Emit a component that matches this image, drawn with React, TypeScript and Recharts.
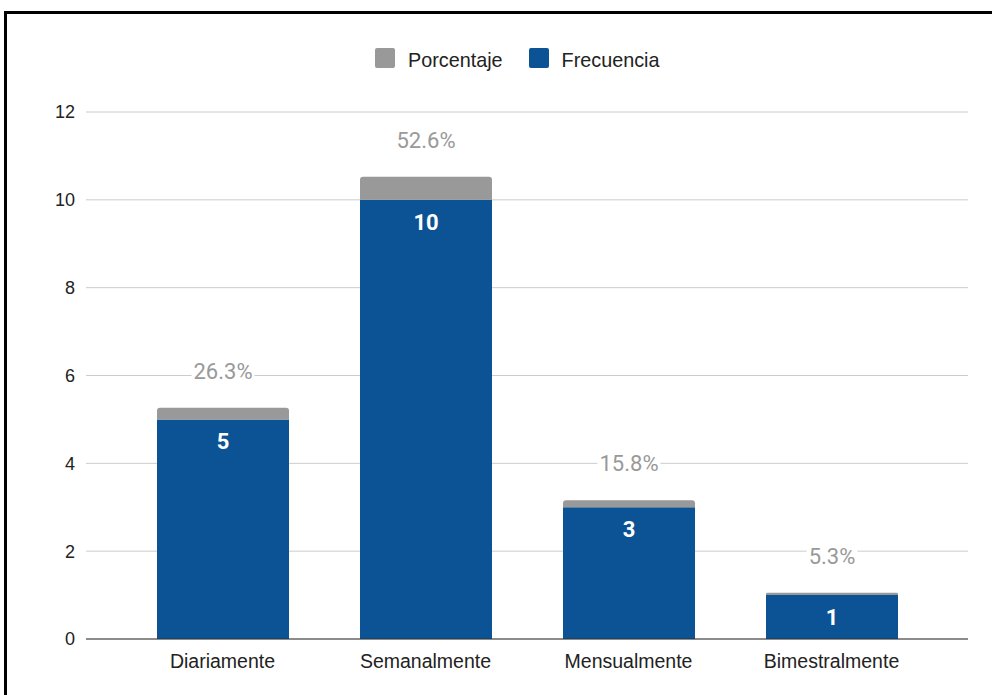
import React from 'react';
import { BarChart, Bar, XAxis, YAxis, CartesianGrid, Legend, LabelList } from 'recharts';

const categories = ['Diariamente', 'Semanalmente', 'Mensualmente', 'Bimestralmente'];
const frecuencia = [5, 10, 3, 1];
const porcentaje = [26.3, 52.6, 15.8, 5.3];
const yTicks = [0, 2, 4, 6, 8, 10, 12];

const data = categories.map((cat, i) => ({
  cat,
  freq: frecuencia[i],
  pct: porcentaje[i],
  pctv: porcentaje[i] / 100,
}));

const BLUE = '#0b5394';
const GRAY = '#999999';
const SANS = '"Liberation Sans", Arial, sans-serif';
const ROBOTO = 'Roboto, "Liberation Sans", sans-serif';

const charW: Record<string, number> = { '.': 0.263, '%': 0.732 };
const textWidth = (s: string, fs: number) =>
  s.split('').reduce((a, c) => a + (charW[c] ?? 0.5615), 0) * fs;

const FreqLabel = (props: any) => {
  const { x, y, width, value } = props;
  return (
    <text
      x={x + width / 2}
      y={y + 30}
      textAnchor="middle"
      fill="#ffffff"
      fontFamily={ROBOTO}
      fontWeight={700}
      fontSize={22}
    >
      {value}
    </text>
  );
};

const PctLabel = (props: any) => {
  const { x, y, width, value } = props;
  const label = `${Number(value).toFixed(1)}%`;
  const fs = 22;
  const w = textWidth(label, fs) + 4;
  const cx = x + width / 2;
  const by = y - 29;
  return (
    <g>
      <rect x={cx - w / 2} y={by - 19} width={w} height={23} fill="#ffffff" />
      <text x={cx} y={by} textAnchor="middle" fill={GRAY} fontFamily={ROBOTO} fontSize={fs}>
        {label}
      </text>
    </g>
  );
};

const LegendContent = (props: any) => {
  const payload = [...(props.payload || [])].reverse();
  return (
    <div style={{ display: 'flex', alignItems: 'center', height: 20 }}>
      {payload.map((p: any, i: number) => (
        <div key={i} style={{ display: 'flex', alignItems: 'center', marginRight: i === 0 ? 26 : 0 }}>
          <div style={{ width: 20, height: 20, background: p.color, borderRadius: 2, marginRight: 13 }} />
          <span
            style={{
              fontFamily: SANS,
              fontSize: 19.8,
              color: '#222',
              lineHeight: '20px',
              position: 'relative',
              top: 2,
            }}
          >
            {p.value}
          </span>
        </div>
      ))}
    </div>
  );
};

export default function App() {
  return (
    <div style={{ position: 'absolute', left: 0, top: 0, width: 992, height: 695, background: '#fff', overflow: 'hidden' }}>
      <div
        style={{
          position: 'absolute',
          left: 4,
          top: 11,
          width: 1000,
          height: 700,
          borderTop: '3px solid #000',
          borderLeft: '3px solid #000',
        }}
      />
      <div style={{ position: 'absolute', left: 0, top: 0 }}>
        <BarChart width={992} height={695} data={data} margin={{ top: 112, right: 24, bottom: 26, left: 46 }}>
          <CartesianGrid vertical={false} stroke="#cccccc" />
          <XAxis
            dataKey="cat"
            height={30}
            padding={{ left: 35, right: 35 }}
            axisLine={{ stroke: '#333333' }}
            tickLine={false}
            tickMargin={9}
            tick={{ fontSize: 19.5, fill: '#222', fontFamily: SANS }}
          />
          <YAxis
            domain={[0, 12]}
            ticks={yTicks}
            axisLine={false}
            tickLine={false}
            tickMargin={5}
            width={40}
            tick={{ fontSize: 18, fill: '#222', fontFamily: SANS }}
          />
          <Legend
            verticalAlign="middle"
            layout="horizontal"
            wrapperStyle={{ top: 48, left: 375, width: 400, height: 20 }}
            content={<LegendContent />}
          />
          <Bar dataKey="freq" name="Frecuencia" stackId="a" fill={BLUE} barSize={132} isAnimationActive={false}>
            <LabelList dataKey="freq" content={<FreqLabel />} />
          </Bar>
          <Bar
            dataKey="pctv"
            name="Porcentaje"
            stackId="a"
            fill={GRAY}
            barSize={132}
            radius={[3, 3, 0, 0]}
            isAnimationActive={false}
          >
            <LabelList dataKey="pct" content={<PctLabel />} />
          </Bar>
        </BarChart>
      </div>
    </div>
  );
}
